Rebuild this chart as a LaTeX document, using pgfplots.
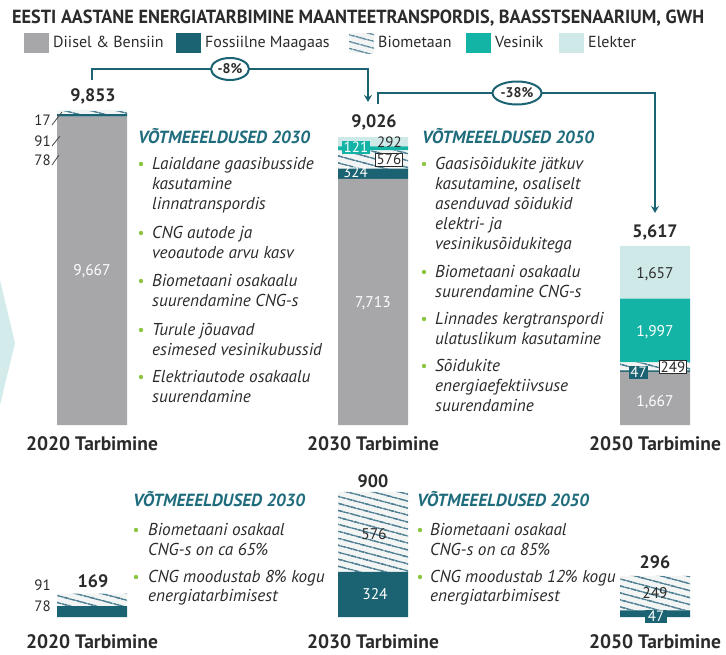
\documentclass[border=0pt]{standalone}
\usepackage{fontspec}
\setmainfont{PT Sans}
\usepackage{graphicx}
\usepackage{pgfplots}
\pgfplotsset{compat=1.18}
\usetikzlibrary{patterns.meta,arrows.meta,shapes.geometric}
\definecolor{cDiesel}{HTML}{A7A7A9}
\definecolor{cFossil}{HTML}{1B6372}
\definecolor{cHyd}{HTML}{13B3A5}
\definecolor{cElec}{HTML}{CFE8E8}
\definecolor{cHatch}{HTML}{4F8093}
\definecolor{cHatchBg}{HTML}{F3F5F5}
\definecolor{cHead}{HTML}{1F6C7C}
\definecolor{cBullet}{HTML}{8CC540}
\definecolor{cText}{HTML}{2B2B2B}
\definecolor{cChev}{HTML}{D3EBEB}
\newcommand{\fs}[1]{\fontsize{#1}{#1}\selectfont}
\pgfplotsset{
  sqlegend/.style={legend image code/.code={\fill[##1] (0pt,-10pt) rectangle (25pt,10pt);}},
  hatchbar/.style={fill=cHatchBg, draw=none, postaction={pattern={Lines[angle=-15,distance=6.5pt,line width=1.7pt]}, pattern color=cHatch}},
  keyaxis/.style={scale only axis, width=726pt, xmin=0, xmax=726, ymin=0,
     ybar stacked, bar width=70pt, clip=false,
     axis line style={draw=none}, ytick=\empty, xtick={92,373,655},
     major tick length=0pt, tick style={draw=none},
     xticklabel style={anchor=base, font=\bfseries\fs{19.5}, text=cText}},
}
\newcommand{\tl}[3]{\node[anchor=base west, inner sep=0pt, font=\itshape\fs{17.2}, text=cText] at (#1,#2) {#3};}
\newcommand{\hd}[3]{\node[anchor=base west, inner sep=0pt, font=\bfseries\itshape\fs{17.6}, text=cHead] at (#1,#2) {#3};}
\newcommand{\bl}[2]{\fill[cBullet] (#1,#2) circle (2.2);}
\begin{document}
\begin{tikzpicture}
\useasboundingbox (0pt,0pt) rectangle (726pt,-654pt);
% top chart
\begin{axis}[keyaxis, at={(0pt,-425pt)}, anchor=south west, height=319pt, ymax=10000,
  xticklabels={2020 Tarbimine,2030 Tarbimine,2050 Tarbimine},
  xticklabel style={yshift=-25pt},
  legend columns=5,
  legend style={at={(rel axis cs:0.0331,1.1975)}, anchor=west, draw=none, fill=none, inner sep=0pt,
    font=\fs{16}, text=cText,
    /tikz/every odd column/.append style={column sep=2pt},
    /tikz/every even column/.append style={column sep=9pt}},
]
\addplot[fill=cDiesel, draw=none, sqlegend] coordinates {(92,9667) (373,7713) (655,1667)};
\addlegendentry{\makebox[112pt][l]{Diisel \& Bensiin}}
\addplot[fill=cFossil, draw=none, sqlegend] coordinates {(92,78) (373,324) (655,47)};
\addlegendentry{\makebox[133pt][l]{Fossiilne Maagaas}}
\addplot[hatchbar, sqlegend] coordinates {(92,91) (373,576) (655,249)};
\addlegendentry{\makebox[77pt][l]{Biometaan}}
\addplot[fill=cHyd, draw=none, sqlegend] coordinates {(92,0) (373,121) (655,1997)};
\addlegendentry{\makebox[53pt][l]{Vesinik}}
\addplot[fill=cElec, draw=none, sqlegend] coordinates {(92,17) (373,292) (655,1657)};
\addlegendentry{\makebox[51pt][l]{Elekter}}
\end{axis}
% bottom chart
\begin{axis}[keyaxis, at={(0pt,-617pt)}, anchor=south west, height=139pt, ymax=1000,
  xticklabels={2020 Tarbimine,2030 Tarbimine,2050 Tarbimine},
  xticklabel style={yshift=-31pt}]
\addplot[fill=cFossil, draw=none] coordinates {(92,78) (373,324) (655,47)};
\addplot[hatchbar] coordinates {(92,91) (373,576) (655,249)};
\end{axis}
\begin{scope}[x=1pt,y=-1pt]
\fill[cChev] (0,280) -- (15,343) -- (0,405) -- cycle;
\node[anchor=base west, inner sep=0pt, text=cText] at (12,23) {\resizebox{692pt}{\height}{\bfseries\fs{19}EESTI AASTANE ENERGIATARBIMINE MAANTEETRANSPORDIS, BAASSTSENAARIUM, GWH}};
% connectors
\draw[cFossil, line width=2.6pt, -{Stealth[length=7pt,width=8pt]}] (92,80) -- (92,69) -- (368,69) -- (368,102);
\node[draw=cFossil, line width=2pt, fill=white, ellipse, minimum width=38pt, minimum height=22pt, inner sep=0pt, font=\bfseries\fs{14}, text=cText] at (230,69) {-8\%};
\draw[cFossil, line width=2.6pt, -{Stealth[length=7pt,width=8pt]}] (378,104) -- (378,93) -- (655,93) -- (655,213);
\node[draw=cFossil, line width=2pt, fill=white, ellipse, minimum width=49pt, minimum height=23pt, inner sep=0pt, font=\bfseries\fs{14}, text=cText] at (517,93) {-38\%};
% totals
\begin{scope}[every node/.style={anchor=base, inner sep=0pt, font=\bfseries\fs{18}, text=cText}]
\node at (93,101) {9,853};
\node at (374,127) {9,026};
\node at (655,237) {5,617};
\node at (93,587) {169};
\node at (373,487) {900};
\node at (655,568) {296};
\end{scope}
% values inside bars
\begin{scope}[every node/.style={anchor=base, inner sep=0pt, font=\fs{15.5}}]
\node[text=white] at (92,275) {9,667};
\node[text=white] at (373,307) {7,713};
\node[text=cText] at (655,278) {1,657};
\node[text=white] at (655,336) {1,997};
\node[text=white] at (655,406) {1,667};
\node[text=cText] at (374,539) {576};
\node[text=white] at (375,599) {324};
\node[text=cText] at (655,598) {249};
\end{scope}
\begin{scope}[every node/.style={anchor=base east, inner sep=0pt, font=\fs{15}, text=cText}]
\node at (51,125) {17};
\node at (51,146) {91};
\node at (51,165) {78};
\node at (51,590) {91};
\node at (51,611) {78};
\end{scope}
\draw[cText!80, line width=0.9pt] (52,125) -- (62,112);
\draw[cText!80, line width=0.9pt] (52,146) -- (60,136);
\draw[cText!80, line width=0.9pt] (52,165) -- (59,155);
% small boxes
\node[fill=cHyd, text=white, font=\fs{15}, inner xsep=1.5pt, inner ysep=1pt] at (356,147.5) {121};
\node[text=cText, font=\fs{15}, inner sep=0pt] at (389.5,142.5) {292};
\node[fill=white, draw=cText, line width=0.6pt, text=cText, font=\fs{15}, inner xsep=1.5pt, inner ysep=1pt] at (389,159.5) {576};
\node[text=white, font=\fs{15}, inner sep=0pt] at (355.5,172.5) {324};
\node[fill=cFossil, text=white, font=\fs{15}, inner xsep=1.5pt, inner ysep=1pt] at (638.5,372.5) {47};
\node[fill=white, draw=cText, line width=0.6pt, text=cText, font=\fs{15}, inner xsep=1.5pt, inner ysep=1pt] at (673,367) {249};
\node[fill=cFossil, text=white, font=\fs{15}, inner xsep=3pt, inner ysep=1.5pt] at (656,616.5) {47};
% keys top 2030
\hd{138}{143}{VÕTMEEELDUSED 2030}
\bl{141}{164}\tl{152}{169}{Laialdane gaasibusside}\tl{152}{189}{kasutamine}\tl{152}{209}{linnatranspordis}
\bl{141}{233}\tl{152}{238}{CNG autode ja}\tl{152}{258}{veoautode arvu kasv}
\bl{141}{281}\tl{152}{286}{Biometaani osakaalu}\tl{152}{306}{suurendamine CNG-s}
\bl{141}{330}\tl{152}{335}{Turule jõuavad}\tl{152}{355}{esimesed vesinikubussid}
\bl{141}{377}\tl{152}{382}{Elektriautode osakaalu}\tl{152}{402}{suurendamine}
% keys top 2050
\hd{422}{143}{VÕTMEEELDUSED 2050}
\bl{424}{164}\tl{435}{169}{Gaasisõidukite jätkuv}\tl{435}{189}{kasutamine, osaliselt}\tl{435}{209}{asenduvad sõidukid}\tl{435}{229}{elektri- ja}\tl{435}{249}{vesinikusõidukitega}
\bl{424}{272}\tl{435}{277}{Biometaani osakaalu}\tl{435}{297}{suurendamine CNG-s}
\bl{424}{319}\tl{435}{324}{Linnades kergtranspordi}\tl{435}{344}{ulatuslikum kasutamine}
\bl{424}{366}\tl{435}{371}{Sõidukite}\tl{435}{391}{energiaefektiivsuse}\tl{435}{411}{suurendamine}
% keys bottom
\hd{133}{506}{VÕTMEEELDUSED 2030}
\bl{136}{530}\tl{148}{535}{Biometaani osakaal}\tl{148}{555}{CNG-s on ca 65\%}
\bl{136}{577}\tl{148}{582}{CNG moodustab 8\% kogu}\tl{148}{601}{energiatarbimisest}
\hd{417}{506}{VÕTMEEELDUSED 2050}
\bl{420}{530}\tl{430}{535}{Biometaani osakaal}\tl{430}{555}{CNG-s on ca 85\%}
\bl{420}{577}\tl{430}{582}{CNG moodustab 12\% kogu}\tl{430}{601}{energiatarbimisest}
\end{scope}
\end{tikzpicture}
\end{document}
